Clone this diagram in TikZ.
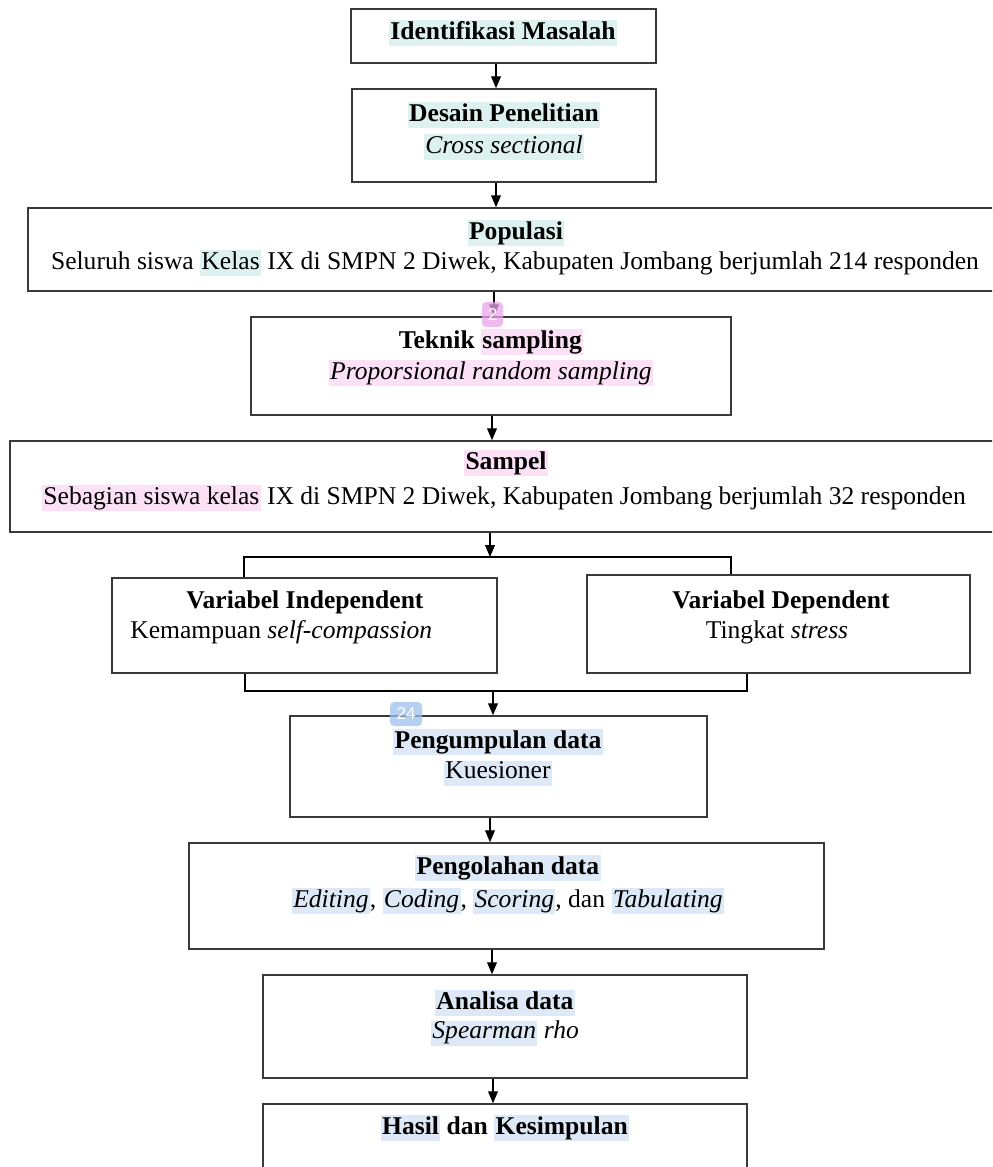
\documentclass[tikz,border=0pt,12pt]{standalone}
\usepackage{fontspec}
\setmainfont{Liberation Serif}
\newfontfamily\markfont{Liberation Sans}
\usetikzlibrary{arrows.meta, positioning, calc}
\definecolor{HlTeal}{HTML}{DDF2F0}
\definecolor{HlPink}{HTML}{FBE0F6}
\definecolor{HlBlue}{HTML}{DEE9F7}
\definecolor{MarkPink}{HTML}{E9A3EA}
\definecolor{MarkBlue}{HTML}{9EC0EE}
\definecolor{BoxLine}{HTML}{3A3A3A}
\newcommand{\hlmark}[2]{{\setlength{\fboxsep}{0.6pt}\colorbox{#1}{\vphantom{Ag}#2}}}
\def\pxunit{0.0165cm}

\begin{document}
\begin{tikzpicture}[x=\pxunit, y=-\pxunit, >={Triangle[width=4.6pt,length=5.6pt]},
  box/.style={draw=BoxLine, line width=0.7pt, rectangle, inner sep=0pt},
  boxsize/.style 2 args={box, minimum width=#1*\pxunit, minimum height=#2*\pxunit},
  title/.style={font=\bfseries, inner sep=0pt},
  sub/.style={inner sep=0pt},
  flow/.style={->, line width=0.6pt},
  tag/.style={rounded corners=2pt, fill opacity=0.75, text opacity=1, text=white,
    inner sep=0pt, font=\markfont\fontsize{8}{8}\selectfont}]
  \useasboundingbox (0,0) rectangle (992,1167);
  \clip (0,0) rectangle (992,1167);

  % boxes
  \node[boxsize={305}{54}] (ident) at (503.5,36) {};
  \node[boxsize={304}{93}] (desain) at (504,135.5) {};
  \node[boxsize={972}{83}] (popul) at (514,249.5) {};
  \node[boxsize={480}{98}] (teknik) at (491,366) {};
  \node[boxsize={990}{91}] (sampel) at (505,486.5) {};
  \node[boxsize={385}{95}] (indep) at (304.5,625.5) {};
  \node[boxsize={383}{98}] (dep) at (778.5,624) {};
  \node[boxsize={417}{101}] (kumpul) at (498.5,766.5) {};
  \node[boxsize={635}{106}] (olah) at (506.5,896) {};
  \node[boxsize={484}{103}] (analisa) at (505,1026.5) {};
  \node[boxsize={484}{96}] (hasil) at (505,1152) {};

  % texts
  \node[title] (identT) at (503,33) {\hlmark{HlTeal}{Identifikasi Masalah}};
  \node[title] (desainT) at (504,115) {\hlmark{HlTeal}{Desain Penelitian}};
  \node[sub] (desainS) at (504,147) {\hlmark{HlTeal}{\itshape Cross sectional}};
  \node[title] (populT) at (516,233) {\hlmark{HlTeal}{Populasi}};
  \node[sub] (populS) at (515,263) {Seluruh siswa \hlmark{HlTeal}{Kelas} IX di SMPN 2 Diwek, Kabupaten Jombang berjumlah 214 responden};
  \node[title] (teknikT) at (491,342) {Teknik \hlmark{HlPink}{sampling}};
  \node[sub] (teknikS) at (491,373) {\hlmark{HlPink}{\itshape Proporsional random sampling}};
  \node[title] (sampelT) at (506,463) {\hlmark{HlPink}{Sampel}};
  \node[sub] (sampelS) at (504,498) {\hlmark{HlPink}{Sebagian siswa kelas} IX di SMPN 2 Diwek, Kabupaten Jombang berjumlah 32 responden};
  \node[title] (indepT) at (305,602) {Variabel Independent};
  \node[sub, anchor=west] (indepS) at (130,632) {Kemampuan \textit{self-compassion}};
  \node[title] (depT) at (781,602) {Variabel Dependent};
  \node[sub] (depS) at (777,632) {Tingkat \textit{stress}};
  \node[title] (kumpulT) at (498,742) {\hlmark{HlBlue}{Pengumpulan data}};
  \node[sub] (kumpulS) at (498,773) {\hlmark{HlBlue}{Kuesioner}};
  \node[title] (olahT) at (508,868) {\hlmark{HlBlue}{Pengolahan data}};
  \node[sub] (olahS) at (508,901) {\hlmark{HlBlue}{\itshape Editing}, \hlmark{HlBlue}{\itshape Coding}, \hlmark{HlBlue}{\itshape Scoring}, dan \hlmark{HlBlue}{\itshape Tabulating}};
  \node[title] (analisaT) at (505,1003) {\hlmark{HlBlue}{Analisa data}};
  \node[sub] (analisaS) at (505,1033) {\hlmark{HlBlue}{\itshape Spearman} \textit{rho}};
  \node[title] (hasilT) at (505,1128) {\hlmark{HlBlue}{Hasil} dan \hlmark{HlBlue}{Kesimpulan}};

  % connectors
  \coordinate (topbar) at (490,557);
  \coordinate (botbar) at (493,691);
  \draw[flow] (ident.south -| 496,0) -- (desain.north -| 496,0);
  \draw[flow] (desain.south -| 496,0) -- (popul.north -| 496,0);
  \draw[flow] (popul.south -| 494,0) -- (teknik.north -| 494,0);
  \draw[flow] (teknik.south -| 492,0) -- (sampel.north -| 492,0);
  \draw[flow] (sampel.south -| topbar) -- (topbar);
  \draw[line width=0.6pt] (indep.north -| 244,0) |- (topbar) -| (dep.north -| 731,0);
  \draw[line width=0.6pt] (indep.south -| 245,0) |- (botbar) -| (dep.south -| 747,0);
  \draw[flow] (botbar) -- (kumpul.north -| botbar);
  \draw[flow] (kumpul.south -| 490,0) -- (olah.north -| 490,0);
  \draw[flow] (olah.south -| 492,0) -- (analisa.north -| 492,0);
  \draw[flow] (analisa.south -| 493,0) -- (hasil.north -| 493,0);

  % checker tags
  \node[tag, fill=MarkPink, minimum width=21*\pxunit, minimum height=25*\pxunit] (tagA) at (492.5,314.5) {2};
  \node[tag, fill=MarkBlue, minimum width=32*\pxunit, minimum height=24*\pxunit] (tagB) at (406,714) {24};
\end{tikzpicture}
\end{document}
